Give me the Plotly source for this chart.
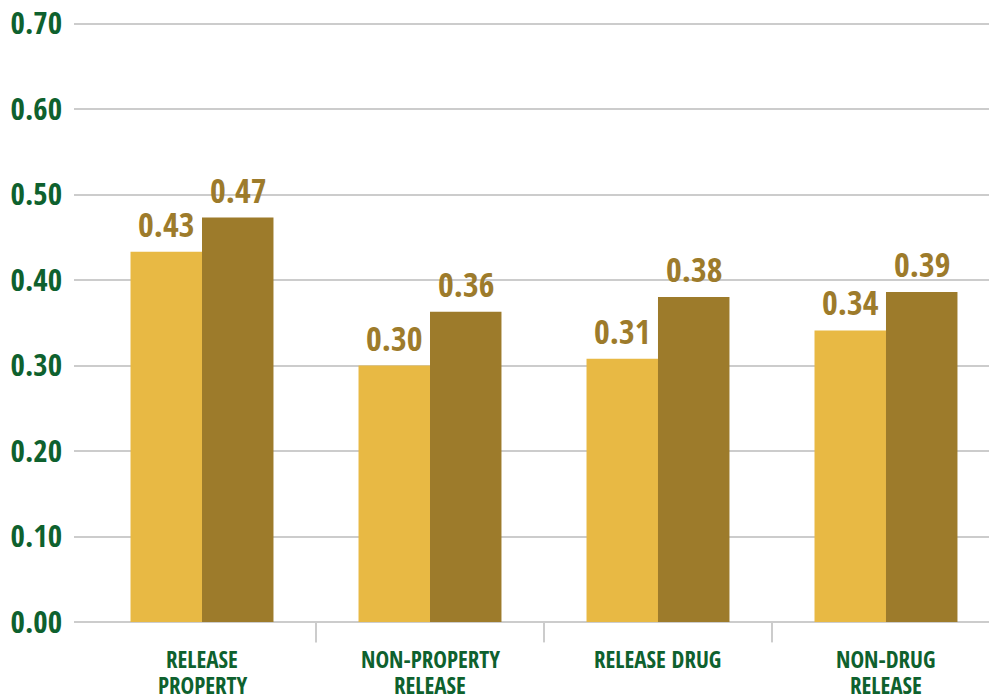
import plotly.graph_objects as go

categories = ["RELEASE\nPROPERTY", "NON-PROPERTY\nRELEASE", "RELEASE DRUG", "NON-DRUG\nRELEASE"]
series_a = [0.433, 0.300, 0.308, 0.341]
series_b = [0.473, 0.363, 0.380, 0.386]
series_names = ["Series A", "Series B"]
y_ticks = [0.0, 0.1, 0.2, 0.3, 0.4, 0.5, 0.6, 0.7]
y_tick_labels = ["0.00", "0.10", "0.20", "0.30", "0.40", "0.50", "0.60", "0.70"]

FONT = "Open Sans Condensed, DejaVu Sans Condensed, sans-serif"
LIGHT = "#E8B944"
DARK = "#9D7B2B"
GREEN = "#0E612E"
GRID = "#CCCCCC"

BARGAP = 0.373
xs = list(range(len(categories)))
half = (1 - BARGAP) / 4  # offset of each bar centre from the group centre

fig = go.Figure()
fig.add_trace(go.Bar(x=xs, y=series_a, name=series_names[0],
                     marker=dict(color=LIGHT, line=dict(width=0))))
fig.add_trace(go.Bar(x=xs, y=series_b, name=series_names[1],
                     marker=dict(color=DARK, line=dict(width=0))))

annotations = []
for vals, sign in ((series_a, -1), (series_b, 1)):
    for i, v in enumerate(vals):
        annotations.append(dict(
            x=i + sign * half, y=v, xref="x", yref="y", text=f"{v:.2f}",
            showarrow=False, xanchor="center", yanchor="bottom", yshift=3,
            font=dict(family=FONT, size=34, color=DARK, weight="bold")))

for i, cat in enumerate(categories):
    for j, line in enumerate(cat.split("\n")):
        annotations.append(dict(
            x=i, y=0, xref="x", yref="paper", text=line, showarrow=False,
            xanchor="center", yanchor="middle", yshift=-37 - 26 * j,
            font=dict(family=FONT, size=23, color=GREEN, weight="bold")))

shapes = []
for i in range(len(categories) - 1):
    shapes.append(dict(type="line", xref="x", yref="paper", x0=i + 0.5, x1=i + 0.5,
                       y0=0, y1=-0.034, line=dict(color=GRID, width=2), layer="below"))

fig.update_layout(
    width=996, height=696,
    margin=dict(l=74, r=7, t=22, b=74, autoexpand=False),
    paper_bgcolor="white", plot_bgcolor="white",
    barmode="group", bargap=BARGAP, bargroupgap=0,
    showlegend=False,
    annotations=annotations, shapes=shapes,
    xaxis=dict(range=[-0.5614, 3.4518], showticklabels=False, showgrid=False,
               zeroline=False, showline=False, ticks="", automargin=False),
    yaxis=dict(range=[0, 0.7018], tickvals=y_ticks, ticktext=y_tick_labels,
               showgrid=True, gridcolor=GRID, gridwidth=2,
               zeroline=True, zerolinecolor=GRID, zerolinewidth=2,
               ticks="", ticklabelstandoff=11, automargin=False,
               tickfont=dict(family=FONT, size=31, color=GREEN, weight="bold")),
)

fig.write_html("out.html")
